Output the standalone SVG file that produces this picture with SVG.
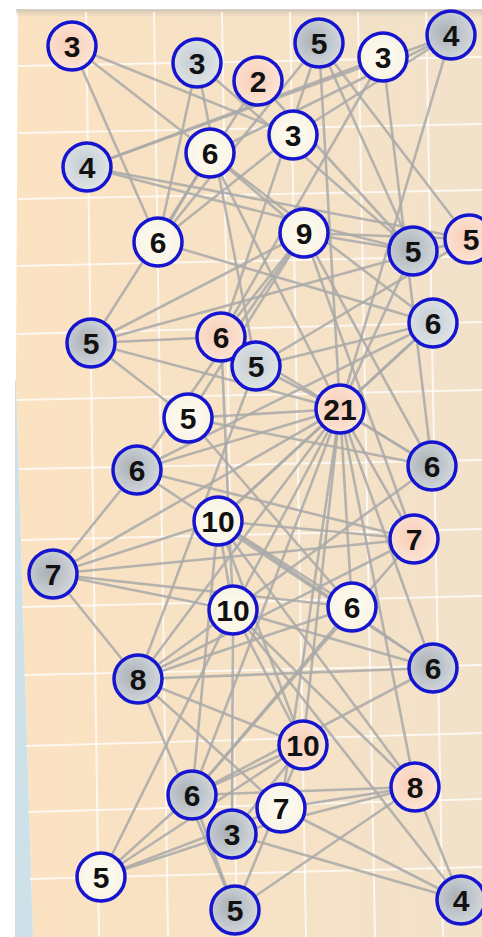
<svg xmlns="http://www.w3.org/2000/svg" width="482" height="937" viewBox="0 0 482 937">
<defs>
<linearGradient id="bg" x1="0" y1="0" x2="1" y2="0">
<stop offset="0" stop-color="#fbe2c1"/>
<stop offset="1" stop-color="#f2e2ca"/>
</linearGradient>
<linearGradient id="topshade" x1="0" y1="0" x2="0" y2="1">
<stop offset="0" stop-color="#bdb6ab"/>
<stop offset="1" stop-color="#bdb6ab" stop-opacity="0"/>
</linearGradient>
<radialGradient id="gPink" cx="0.45" cy="0.45" r="0.6">
<stop offset="0" stop-color="#f8cdb9"/>
<stop offset="1" stop-color="#fce6d6"/>
</radialGradient>
<radialGradient id="gGray" cx="0.4" cy="0.45" r="0.6">
<stop offset="0" stop-color="#a9b0b6"/>
<stop offset="1" stop-color="#d3d8dc"/>
</radialGradient>
<radialGradient id="gBlue" cx="0.45" cy="0.45" r="0.6">
<stop offset="0" stop-color="#c3ccd3"/>
<stop offset="1" stop-color="#e2e6e6"/>
</radialGradient>
<radialGradient id="gWhite" cx="0.5" cy="0.5" r="0.6">
<stop offset="0" stop-color="#fffdf2"/>
<stop offset="1" stop-color="#f6f1e2"/>
</radialGradient>
<style>
.grid line{stroke:#ffffff;stroke-width:2;opacity:0.75}
#edges line{stroke:#a9a9a9;stroke-width:2.6;stroke-opacity:0.85}
.node circle{stroke:#1515d0;stroke-width:3.5}
.node text{font-family:"Liberation Sans",Arial,sans-serif;font-weight:bold;font-size:30px;fill:#111;text-anchor:middle}
.pink{fill:url(#gPink)}
.gray{fill:url(#gGray)}
.blue{fill:url(#gBlue)}
.white{fill:url(#gWhite)}
</style>
</defs>
<rect x="0" y="0" width="482" height="937" fill="#ffffff"/>
<polygon points="18,10 482,10 482,937 33,937 16,380" fill="url(#bg)"/>
<polygon points="15,380 16,380 33,937 15,937" fill="#cfe1e8"/>
<rect x="16" y="9" width="466" height="8" fill="url(#topshade)" opacity="0.7"/>
<g class="grid">
<line x1="86" y1="12" x2="99" y2="937"/>
<line x1="154" y1="12" x2="168" y2="937"/>
<line x1="222" y1="12" x2="237" y2="937"/>
<line x1="290" y1="12" x2="306" y2="937"/>
<line x1="358" y1="12" x2="375" y2="937"/>
<line x1="426" y1="12" x2="443" y2="937"/>
<line x1="18" y1="66" x2="482" y2="57"/>
<line x1="18" y1="133" x2="482" y2="124"/>
<line x1="18" y1="199" x2="482" y2="190"/>
<line x1="17" y1="266" x2="482" y2="256"/>
<line x1="17" y1="334" x2="482" y2="322"/>
<line x1="17" y1="400" x2="482" y2="390"/>
<line x1="19" y1="469" x2="482" y2="460"/>
<line x1="21" y1="540" x2="482" y2="529"/>
<line x1="22" y1="607" x2="482" y2="596"/>
<line x1="24" y1="675" x2="482" y2="665"/>
<line x1="26" y1="746" x2="482" y2="733"/>
<line x1="28" y1="812" x2="482" y2="799"/>
<line x1="30" y1="879" x2="482" y2="867"/>
</g>
<g id="edges">
<line x1="72" y1="46" x2="210" y2="153"/>
<line x1="72" y1="46" x2="158" y2="242"/>
<line x1="72" y1="46" x2="293" y2="135"/>
<line x1="197" y1="63" x2="158" y2="242"/>
<line x1="197" y1="63" x2="256" y2="366"/>
<line x1="197" y1="63" x2="413" y2="251"/>
<line x1="258" y1="81" x2="413" y2="251"/>
<line x1="258" y1="81" x2="91" y2="343"/>
<line x1="319" y1="43" x2="469" y2="239"/>
<line x1="319" y1="43" x2="413" y2="251"/>
<line x1="319" y1="43" x2="221" y2="337"/>
<line x1="319" y1="43" x2="158" y2="242"/>
<line x1="319" y1="43" x2="340" y2="409"/>
<line x1="383" y1="57" x2="87" y2="167"/>
<line x1="383" y1="57" x2="221" y2="337"/>
<line x1="383" y1="57" x2="432" y2="466"/>
<line x1="451" y1="35" x2="87" y2="167"/>
<line x1="451" y1="35" x2="210" y2="153"/>
<line x1="451" y1="35" x2="340" y2="409"/>
<line x1="451" y1="35" x2="293" y2="135"/>
<line x1="87" y1="167" x2="469" y2="239"/>
<line x1="87" y1="167" x2="413" y2="251"/>
<line x1="210" y1="153" x2="304" y2="233"/>
<line x1="210" y1="153" x2="433" y2="323"/>
<line x1="210" y1="153" x2="340" y2="409"/>
<line x1="210" y1="153" x2="158" y2="242"/>
<line x1="293" y1="135" x2="158" y2="242"/>
<line x1="158" y1="242" x2="433" y2="323"/>
<line x1="304" y1="233" x2="91" y2="343"/>
<line x1="304" y1="233" x2="469" y2="239"/>
<line x1="304" y1="233" x2="413" y2="251"/>
<line x1="304" y1="233" x2="188" y2="418"/>
<line x1="304" y1="233" x2="137" y2="470"/>
<line x1="304" y1="233" x2="432" y2="466"/>
<line x1="304" y1="233" x2="414" y2="539"/>
<line x1="304" y1="233" x2="221" y2="337"/>
<line x1="469" y1="239" x2="91" y2="343"/>
<line x1="469" y1="239" x2="256" y2="366"/>
<line x1="91" y1="343" x2="221" y2="337"/>
<line x1="91" y1="343" x2="188" y2="418"/>
<line x1="221" y1="337" x2="432" y2="466"/>
<line x1="221" y1="337" x2="233" y2="610"/>
<line x1="433" y1="323" x2="340" y2="409"/>
<line x1="433" y1="323" x2="256" y2="366"/>
<line x1="433" y1="323" x2="137" y2="470"/>
<line x1="433" y1="323" x2="218" y2="521"/>
<line x1="256" y1="366" x2="340" y2="409"/>
<line x1="256" y1="366" x2="138" y2="679"/>
<line x1="340" y1="409" x2="188" y2="418"/>
<line x1="340" y1="409" x2="137" y2="470"/>
<line x1="340" y1="409" x2="432" y2="466"/>
<line x1="340" y1="409" x2="414" y2="539"/>
<line x1="340" y1="409" x2="218" y2="521"/>
<line x1="340" y1="409" x2="53" y2="574"/>
<line x1="340" y1="409" x2="233" y2="610"/>
<line x1="340" y1="409" x2="352" y2="607"/>
<line x1="340" y1="409" x2="138" y2="679"/>
<line x1="340" y1="409" x2="303" y2="745"/>
<line x1="340" y1="409" x2="415" y2="787"/>
<line x1="340" y1="409" x2="192" y2="795"/>
<line x1="340" y1="409" x2="281" y2="808"/>
<line x1="340" y1="409" x2="433" y2="668"/>
<line x1="340" y1="409" x2="91" y2="343"/>
<line x1="340" y1="409" x2="413" y2="251"/>
<line x1="188" y1="418" x2="432" y2="466"/>
<line x1="188" y1="418" x2="352" y2="607"/>
<line x1="137" y1="470" x2="414" y2="539"/>
<line x1="137" y1="470" x2="53" y2="574"/>
<line x1="137" y1="470" x2="433" y2="668"/>
<line x1="432" y1="466" x2="138" y2="679"/>
<line x1="218" y1="521" x2="53" y2="574"/>
<line x1="218" y1="521" x2="414" y2="539"/>
<line x1="218" y1="521" x2="233" y2="610"/>
<line x1="218" y1="521" x2="352" y2="607"/>
<line x1="218" y1="521" x2="303" y2="745"/>
<line x1="218" y1="521" x2="415" y2="787"/>
<line x1="218" y1="521" x2="433" y2="668"/>
<line x1="218" y1="521" x2="192" y2="795"/>
<line x1="414" y1="539" x2="53" y2="574"/>
<line x1="414" y1="539" x2="138" y2="679"/>
<line x1="414" y1="539" x2="192" y2="795"/>
<line x1="53" y1="574" x2="233" y2="610"/>
<line x1="53" y1="574" x2="138" y2="679"/>
<line x1="53" y1="574" x2="352" y2="607"/>
<line x1="233" y1="610" x2="101" y2="877"/>
<line x1="233" y1="610" x2="461" y2="900"/>
<line x1="233" y1="610" x2="433" y2="668"/>
<line x1="233" y1="610" x2="415" y2="787"/>
<line x1="233" y1="610" x2="303" y2="745"/>
<line x1="233" y1="610" x2="232" y2="834"/>
<line x1="352" y1="607" x2="138" y2="679"/>
<line x1="352" y1="607" x2="192" y2="795"/>
<line x1="138" y1="679" x2="235" y2="910"/>
<line x1="138" y1="679" x2="433" y2="668"/>
<line x1="138" y1="679" x2="303" y2="745"/>
<line x1="433" y1="668" x2="192" y2="795"/>
<line x1="303" y1="745" x2="101" y2="877"/>
<line x1="303" y1="745" x2="235" y2="910"/>
<line x1="303" y1="745" x2="192" y2="795"/>
<line x1="303" y1="745" x2="232" y2="834"/>
<line x1="415" y1="787" x2="235" y2="910"/>
<line x1="415" y1="787" x2="461" y2="900"/>
<line x1="415" y1="787" x2="192" y2="795"/>
<line x1="415" y1="787" x2="281" y2="808"/>
<line x1="415" y1="787" x2="232" y2="834"/>
<line x1="192" y1="795" x2="101" y2="877"/>
<line x1="192" y1="795" x2="235" y2="910"/>
<line x1="281" y1="808" x2="101" y2="877"/>
<line x1="281" y1="808" x2="461" y2="900"/>
<line x1="232" y1="834" x2="101" y2="877"/>
<line x1="232" y1="834" x2="461" y2="900"/>
<line x1="281" y1="808" x2="138" y2="679"/>
</g>
<g id="n1" class="node"><circle cx="72" cy="46" r="24" class="pink"/><text x="72" y="57">3</text></g>
<g id="n2" class="node"><circle cx="197" cy="63" r="24" class="blue"/><text x="197" y="74">3</text></g>
<g id="n3" class="node"><circle cx="258" cy="81" r="24" class="pink"/><text x="258" y="92">2</text></g>
<g id="n4" class="node"><circle cx="319" cy="43" r="24" class="gray"/><text x="319" y="54">5</text></g>
<g id="n5" class="node"><circle cx="383" cy="57" r="24" class="white"/><text x="383" y="68">3</text></g>
<g id="n6" class="node"><circle cx="451" cy="35" r="24" class="gray"/><text x="451" y="46">4</text></g>
<g id="n7" class="node"><circle cx="87" cy="167" r="24" class="blue"/><text x="87" y="178">4</text></g>
<g id="n8" class="node"><circle cx="210" cy="153" r="24" class="white"/><text x="210" y="164">6</text></g>
<g id="n9" class="node"><circle cx="293" cy="135" r="24" class="white"/><text x="293" y="146">3</text></g>
<g id="n10" class="node"><circle cx="158" cy="242" r="24" class="white"/><text x="158" y="253">6</text></g>
<g id="n11" class="node"><circle cx="304" cy="233" r="24" class="white"/><text x="304" y="244">9</text></g>
<g id="n12" class="node"><circle cx="413" cy="251" r="24" class="gray"/><text x="413" y="262">5</text></g>
<g id="n13" class="node"><circle cx="469" cy="239" r="24" class="pink"/><text x="471" y="250">5</text></g>
<g id="n14" class="node"><circle cx="91" cy="343" r="24" class="gray"/><text x="91" y="354">5</text></g>
<g id="n15" class="node"><circle cx="221" cy="337" r="24" class="pink"/><text x="221" y="348">6</text></g>
<g id="n16" class="node"><circle cx="433" cy="323" r="24" class="blue"/><text x="433" y="334">6</text></g>
<g id="n17" class="node"><circle cx="256" cy="366" r="24" class="blue"/><text x="256" y="377">5</text></g>
<g id="n18" class="node"><circle cx="340" cy="409" r="24" class="pink"/><text x="340" y="420">21</text></g>
<g id="n19" class="node"><circle cx="188" cy="418" r="24" class="white"/><text x="188" y="429">5</text></g>
<g id="n20" class="node"><circle cx="137" cy="470" r="24" class="gray"/><text x="137" y="481">6</text></g>
<g id="n21" class="node"><circle cx="432" cy="466" r="24" class="gray"/><text x="432" y="477">6</text></g>
<g id="n22" class="node"><circle cx="218" cy="521" r="24" class="white"/><text x="218" y="532">10</text></g>
<g id="n23" class="node"><circle cx="414" cy="539" r="24" class="pink"/><text x="414" y="550">7</text></g>
<g id="n24" class="node"><circle cx="53" cy="574" r="24" class="gray"/><text x="53" y="585">7</text></g>
<g id="n25" class="node"><circle cx="233" cy="610" r="24" class="white"/><text x="233" y="621">10</text></g>
<g id="n26" class="node"><circle cx="352" cy="607" r="24" class="white"/><text x="352" y="618">6</text></g>
<g id="n27" class="node"><circle cx="138" cy="679" r="24" class="gray"/><text x="138" y="690">8</text></g>
<g id="n28" class="node"><circle cx="433" cy="668" r="24" class="gray"/><text x="433" y="679">6</text></g>
<g id="n29" class="node"><circle cx="303" cy="745" r="24" class="pink"/><text x="303" y="756">10</text></g>
<g id="n30" class="node"><circle cx="415" cy="787" r="24" class="pink"/><text x="415" y="798">8</text></g>
<g id="n31" class="node"><circle cx="192" cy="795" r="24" class="gray"/><text x="192" y="806">6</text></g>
<g id="n32" class="node"><circle cx="281" cy="808" r="24" class="white"/><text x="281" y="819">7</text></g>
<g id="n33" class="node"><circle cx="232" cy="834" r="24" class="gray"/><text x="232" y="845">3</text></g>
<g id="n34" class="node"><circle cx="101" cy="877" r="24" class="white"/><text x="101" y="888">5</text></g>
<g id="n35" class="node"><circle cx="235" cy="910" r="24" class="gray"/><text x="235" y="921">5</text></g>
<g id="n36" class="node"><circle cx="461" cy="900" r="24" class="gray"/><text x="461" y="911">4</text></g>
</svg>
